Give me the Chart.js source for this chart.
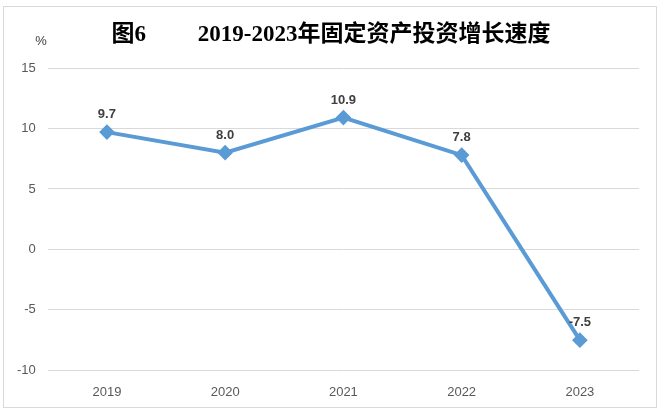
<!DOCTYPE html>
<html>
<head>
<meta charset="utf-8">
<script src="https://cdn.jsdelivr.net/npm/chart.js@4.4.1/dist/chart.umd.min.js"></script>
<style>
  html, body { margin: 0; padding: 0; background: #fff; }
  #wrap { width: 661px; height: 414px; position: relative; }
</style>
</head>
<body>
<div id="wrap"><canvas id="chart"></canvas></div>
<script>
// data
const years = ["2019", "2020", "2021", "2022", "2023"];
const growth = [9.7, 8.0, 10.9, 7.8, -7.5];
const yTicks = [-10, -5, 0, 5, 10, 15];
const titleText = "图6\u3000\u3000 2019-2023年固定资产投资增长速度";
const unitText = "%";

// border, title, unit and value labels
const decorations = {
    id: "decorations",
    afterDraw(chart) {
        const ctx = chart.ctx;
        ctx.save();
        ctx.strokeStyle = "#d9d9d9";
        ctx.lineWidth = 1;
        ctx.strokeRect(3.5, 6.5, 653, 401);

        ctx.fillStyle = "#000";
        ctx.font = "bold 23px 'Liberation Serif', 'Noto Sans CJK SC', serif";
        ctx.textAlign = "center";
        ctx.textBaseline = "middle";
        ctx.fillText(titleText, 331, 35);

        ctx.fillStyle = "#404040";
        ctx.font = "13px 'Liberation Sans', Arial, sans-serif";
        ctx.fillText(unitText, 41, 41);

        // value labels above each point
        const meta = chart.getDatasetMeta(0);
        ctx.font = "bold 13px 'Liberation Sans', Arial, sans-serif";
        ctx.fillStyle = "#404040";
        ctx.textBaseline = "bottom";
        meta.data.forEach((pt, i) => {
            ctx.fillText(growth[i].toFixed(1), pt.x, pt.y - 11);
        });
        ctx.restore();
    }
};

new Chart(document.getElementById("chart"), {
    type: "line",
    data: {
        labels: years,
        datasets: [{
            data: growth,
            borderColor: "#5b9bd5",
            backgroundColor: "#5b9bd5",
            borderWidth: 4,
            pointStyle: "rectRot",
            pointRadius: 5,
            pointHoverRadius: 5,
            tension: 0
        }]
    },
    options: {
        responsive: true,
        maintainAspectRatio: false,
        animation: false,
        events: [],
        layout: { padding: { top: 68, left: 5, right: 22, bottom: 8 } },
        plugins: {
            legend: { display: false },
            title: { display: false },
            tooltip: { enabled: false }
        },
        scales: {
            x: {
                offset: true,
                grid: { display: false },
                border: { display: false },
                ticks: { color: "#595959", font: { size: 13, family: "'Liberation Sans', Arial, sans-serif" }, padding: 6 }
            },
            y: {
                min: yTicks[0],
                max: yTicks[yTicks.length - 1],
                afterBuildTicks(scale) { scale.ticks = yTicks.map(v => ({ value: v })); },
                grid: { color: "#d9d9d9", drawTicks: false },
                border: { display: false },
                ticks: { color: "#595959", font: { size: 13, family: "'Liberation Sans', Arial, sans-serif" }, padding: 12 }
            }
        }
    },
    plugins: [decorations]
});
</script>
</body>
</html>
